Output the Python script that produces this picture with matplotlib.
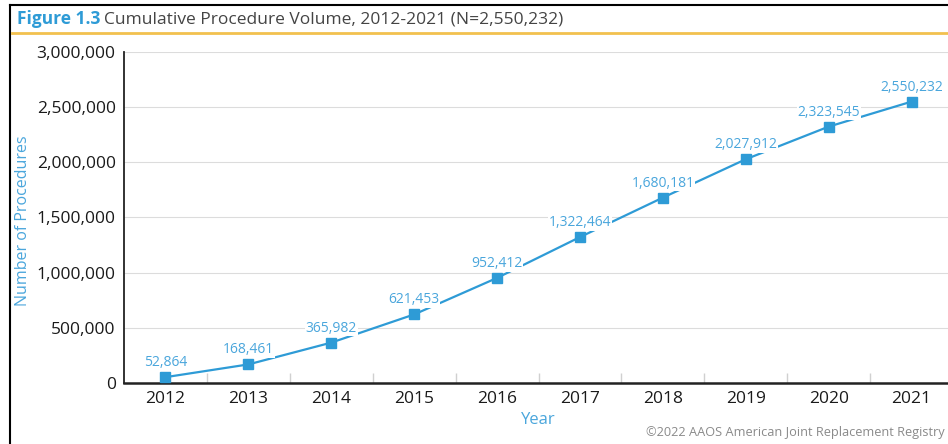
import matplotlib
matplotlib.use("Agg")
import matplotlib.pyplot as plt
from matplotlib.lines import Line2D
from matplotlib.ticker import FuncFormatter

plt.rcParams['font.family'] = ['Open Sans', 'DejaVu Sans']

years = ['2012', '2013', '2014', '2015', '2016', '2017', '2018', '2019', '2020', '2021']
volume = [52864, 168461, 365982, 621453, 952412, 1322464, 1680181, 2027912, 2323545, 2550232]

blue = '#2e9bd6'
lblue = '#4aa6dc'

fig = plt.figure(figsize=(9.48, 4.44), dpi=100)
ax = fig.add_axes([124 / 948, 1 - 383 / 444, 829 / 948, 331 / 444])

x = list(range(len(years)))
ax.plot(x, volume, color=blue, lw=1.6, marker='s', ms=6.5, zorder=3)
for xi, v in zip(x, volume):
    ax.annotate(f'{v:,}', (xi, v), xytext=(0, 5), textcoords='offset points',
                ha='center', va='bottom', fontsize=10, color=lblue, zorder=4,
                bbox=dict(boxstyle='square,pad=0.05', fc='white', ec='none'))

ax.set_xlim(-0.5, len(years) - 0.5)
ax.set_ylim(0, 3000000)
ax.set_yticks(range(0, 3000001, 500000))
ax.yaxis.set_major_formatter(FuncFormatter(lambda v, p: f'{int(v):,}'))
ax.set_xticks(x)
ax.set_xticklabels(years)
ax.set_xticks([i + 0.5 for i in x[:-1]], minor=True)
ax.tick_params(axis='x', which='major', length=0, pad=6, labelsize=12.5, labelcolor='#1a1a1a')
ax.tick_params(axis='x', which='minor', direction='in', length=7, color='#d0d0d0', width=1)
ax.tick_params(axis='y', length=0, pad=6, labelsize=12.5, labelcolor='#1a1a1a')
ax.grid(axis='y', color='#dcdcdc', lw=0.8)
ax.set_axisbelow(True)
for s in ['top', 'right']:
    ax.spines[s].set_visible(False)
ax.spines['left'].set_linewidth(1.3)
ax.spines['bottom'].set_linewidth(1.8)
ax.spines['left'].set_color('#222222')
ax.spines['bottom'].set_color('#222222')

ax.set_ylabel('Number of Procedures', color=lblue, fontsize=11.5)
ax.yaxis.set_label_coords((31 - 124) / 829, 0.49)
ax.set_xlabel('Year', color=lblue, fontsize=12, labelpad=3)

# frame and title rule
fig.add_artist(Line2D([10 / 948, 10 / 948], [0, 1 - 5 / 444], color='black', lw=1.5))
fig.add_artist(Line2D([10 / 948, 1], [1 - 5 / 444, 1 - 5 / 444], color='black', lw=1.5))
fig.add_artist(Line2D([12 / 948, 1], [1 - 33 / 444, 1 - 33 / 444], color='#f2c14e', lw=2))

t1 = fig.text(17 / 948, 1 - 19 / 444, 'Figure 1.3', fontsize=12.5, fontweight='bold',
              color=blue, va='center', ha='left')
fig.canvas.draw()
bb = t1.get_window_extent()
fig.text((bb.x1 + 4) / 948, 1 - 19 / 444, 'Cumulative Procedure Volume, 2012-2021 (N=2,550,232)',
         fontsize=12.5, color='#444444', va='center', ha='left')

fig.text(646 / 948, 1 - 432 / 444, '\u00a92022 AAOS American Joint Replacement Registry',
         fontsize=9.2, color='#8a8a8a', va='center', ha='left')

fig.savefig('out.png', dpi=100)
